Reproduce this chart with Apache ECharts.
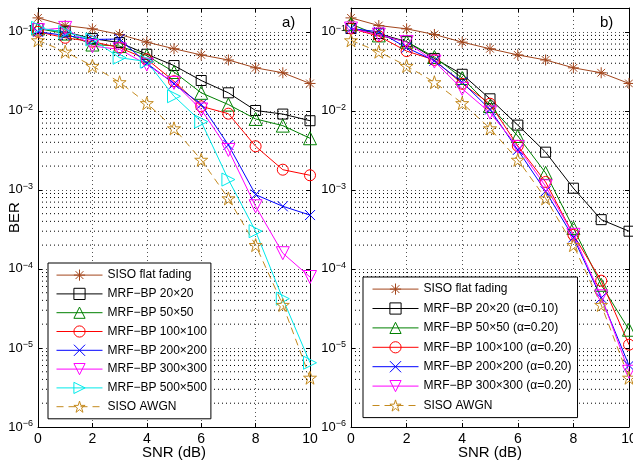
<!DOCTYPE html>
<html>
<head>
<meta charset="utf-8">
<script src="https://cdn.jsdelivr.net/npm/echarts@6/dist/echarts.min.js"></script>
<style>
  html, body { margin: 0; padding: 0; background: #fff; }
  #chart { width: 633px; height: 461px; }
</style>
</head>
<body>
<div id="chart"></div>
<script>
// SNR points (dB)
const snr = [0, 1, 2, 3, 4, 5, 6, 7, 8, 9, 10];

// reference curves, same in both panels
const berFlat = [0.15, 0.12, 0.109, 0.0925, 0.074, 0.061, 0.051, 0.044, 0.035, 0.0303, 0.0222];
const berAwgn = [0.078, 0.056, 0.037, 0.023, 0.0125, 0.006, 0.0024, 0.00078, 0.0002, 3.5e-5, 4.2e-6];

// panel a)
const berA20 = [0.11, 0.1, 0.082, 0.073, 0.052, 0.0374, 0.0242, 0.0169, 0.0101, 0.0091, 0.0075];
const berA50 = [0.11, 0.095, 0.069, 0.066, 0.05, 0.031, 0.0169, 0.012, 0.0079, 0.0065, 0.0045];
const berA100 = [0.1, 0.084, 0.075, 0.063, 0.045, 0.0237, 0.0114, 0.0092, 0.00356, 0.0018, 0.00153];
const berA200 = [0.1, 0.09, 0.08, 0.081, 0.04, 0.022, 0.012, 0.0037, 0.00087, 0.00062, 0.00048];
const berA300 = [0.105, 0.112, 0.066, 0.06, 0.0385, 0.0226, 0.0104, 0.0032, 0.00062, 0.000158, 7.9e-5];
const berA500 = [0.112, 0.099, 0.08, 0.047, 0.042, 0.0153, 0.0073, 0.00135, 0.0003, 4.2e-5, 6.5e-6];

// panel b)
const berB20 = [0.11, 0.095, 0.075, 0.046, 0.029, 0.0142, 0.0066, 0.003, 0.00105, 0.00042, 0.0003];
const berB50 = [0.125, 0.09, 0.075, 0.048, 0.026, 0.0115, 0.0048, 0.00164, 0.00033, 6.3e-5, 1.7e-5];
const berB100 = [0.11, 0.088, 0.057, 0.044, 0.022, 0.0123, 0.0036, 0.00126, 0.00027, 7.1e-5, 1.1e-5];
const berB200 = [0.11, 0.1, 0.063, 0.043, 0.023, 0.0104, 0.0032, 0.00096, 0.00025, 4.3e-5, 6e-6];
const berB300 = [0.11, 0.092, 0.074, 0.042, 0.019, 0.0095, 0.0035, 0.00111, 0.00027, 4.5e-5, 5e-6];

const namesA = ['SISO flat fading', 'MRF\u2212BP 20\u00d720', 'MRF\u2212BP 50\u00d750', 'MRF\u2212BP 100\u00d7100',
  'MRF\u2212BP 200\u00d7200', 'MRF\u2212BP 300\u00d7300', 'MRF\u2212BP 500\u00d7500', 'SISO AWGN'];
const namesB = ['SISO flat fading', 'MRF\u2212BP 20\u00d720 (\u03b1=0.10)', 'MRF\u2212BP 50\u00d750 (\u03b1=0.20)',
  'MRF\u2212BP 100\u00d7100 (\u03b1=0.20)', 'MRF\u2212BP 200\u00d7200 (\u03b1=0.20)', 'MRF\u2212BP 300\u00d7300 (\u03b1=0.20)', 'SISO AWGN'];

// minor grid lines of the log axis: 2..9 x each decade
const decades = [1e-6, 1e-5, 1e-4, 1e-3, 1e-2];
const minorSteps = [2, 3, 4, 5, 6, 7, 8, 9];

const FONT = '"Liberation Sans", Arial, sans-serif';
const GRID_LINE = { type: [1, 3], color: '#555', width: 1 };
// series lines are not pixel-snapped, so a darker dot keeps them readable
const MINOR_LINE = { type: [1, 3], color: '#000', width: 1 };

const SYM_ASTER = 'path://M0 5L10 5M5 0L5 10M1.5 1.5L8.5 8.5M1.5 8.5L8.5 1.5';
const SYM_CROSS = 'path://M0 0L10 10M0 10L10 0';
const SYM_STAR = 'path://M10 0L12.25 6.91L19.51 6.91L13.63 11.18L15.88 18.09L10 13.82L4.12 18.09L6.37 11.18L0.49 6.91L7.75 6.91Z';

const STY = {
  flat:  { color: '#a3461c', symbol: SYM_ASTER, size: 11 },
  s20:   { color: '#000000', symbol: 'rect', size: 10 },
  s50:   { color: '#008000', symbol: 'triangle', size: 13 },
  s100:  { color: '#ff0000', symbol: 'circle', size: 11 },
  s200:  { color: '#0000ff', symbol: SYM_CROSS, size: 10 },
  s300:  { color: '#ff00ff', symbol: 'triangle', size: 13, rotate: 180 },
  s500:  { color: '#00eaea', symbol: 'triangle', size: 13, rotate: -90 },
  awgn:  { color: '#c48a1e', symbol: SYM_STAR, size: 13, dashed: true }
};

function curve(name, values, sty, gi) {
  return {
    name: name, type: 'line', xAxisIndex: gi * 2, yAxisIndex: gi * 2,
    data: snr.map((x, i) => [x, values[i]]),
    symbol: sty.symbol, symbolSize: sty.size, symbolRotate: sty.rotate || 0,
    showAllSymbol: true, animation: false, z: 3,
    lineStyle: { color: sty.color, width: 1, type: sty.dashed ? [7, 5] : 'solid' },
    itemStyle: { color: 'transparent', borderColor: sty.color, borderWidth: 1 },
    emphasis: { disabled: true }
  };
}

// one flat dotted line per minor value, drawn on the panel's own log axis
function minorGrid(gi) {
  const out = [];
  decades.forEach(d => minorSteps.forEach(m => {
    out.push({
      type: 'line', xAxisIndex: gi * 2, yAxisIndex: gi * 2, silent: true, z: 1,
      data: [[0, d * m], [10, d * m]], symbol: 'none', animation: false,
      lineStyle: MINOR_LINE, emphasis: { disabled: true }
    });
  }));
  return out;
}

function powLabel(v) {
  const e = Math.log10(v);
  const k = Math.round(e);
  if (Math.abs(e - k) > 1e-6) return '';
  return '10{sup|' + (k < 0 ? '\u2212' + (-k) : k) + '}';
}

function xAxes(gi) {
  return [{
    type: 'value', gridIndex: gi, min: 0, max: 10, interval: 2,
    name: 'SNR (dB)', nameLocation: 'middle', nameGap: 18, nameMoveOverlap: false,
    nameTextStyle: { fontFamily: FONT, fontSize: 15, color: '#000' },
    axisLine: { show: true, onZero: false, lineStyle: { color: '#000', width: 1 } },
    axisTick: { show: true, inside: true, length: 4, lineStyle: { color: '#000' } },
    axisLabel: { fontFamily: FONT, fontSize: 14, color: '#000', margin: 5 },
    splitLine: { show: true, lineStyle: GRID_LINE }
  }, {
    type: 'value', gridIndex: gi, min: 0, max: 10, interval: 2, position: 'top',
    axisLine: { show: true, onZero: false, lineStyle: { color: '#000', width: 1 } },
    axisTick: { show: true, inside: true, length: 4, lineStyle: { color: '#000' } },
    axisLabel: { show: false }, splitLine: { show: false }
  }];
}

function yAxes(gi) {
  return [{
    type: 'log', logBase: 10, gridIndex: gi, min: 1e-6, max: 0.2,
    name: gi === 0 ? 'BER' : '', nameLocation: 'middle', nameGap: 16, nameRotate: 90,
    nameMoveOverlap: false,
    nameTextStyle: { fontFamily: FONT, fontSize: 15, color: '#000' },
    axisLine: { show: true, onZero: false, lineStyle: { color: '#000', width: 1 } },
    axisTick: { show: true, inside: true, length: 4, lineStyle: { color: '#000' } },
    axisLabel: {
      fontFamily: FONT, fontSize: 13, color: '#000', margin: 5,
      formatter: powLabel,
      rich: { sup: { fontFamily: FONT, fontSize: 9, color: '#000', padding: [0, 0, 7, 0] } }
    },
    splitLine: { show: true, lineStyle: GRID_LINE }
  }, {
    type: 'log', logBase: 10, gridIndex: gi, min: 1e-6, max: 0.2, position: 'right',
    axisLine: { show: true, onZero: false, lineStyle: { color: '#000', width: 1 } },
    axisTick: { show: true, inside: true, length: 4, lineStyle: { color: '#000' } },
    axisLabel: { show: false }, splitLine: { show: false }
  }];
}

function legendBox(names, left, top, gap, pad) {
  return {
    data: names, orient: 'vertical', left: left, top: top,
    itemWidth: 46, itemHeight: 14, itemGap: gap, padding: pad,
    backgroundColor: '#fff', borderColor: '#000', borderWidth: 1, borderRadius: 0,
    itemStyle: { borderWidth: 1 },
    lineStyle: { width: 1 },
    textStyle: { fontFamily: FONT, fontSize: 12, color: '#000' },
    selectedMode: false, z: 10
  };
}

const chart = echarts.init(document.getElementById('chart'), null, { renderer: 'canvas' });

chart.setOption({
  backgroundColor: '#fff',
  animation: false,
  title: [
    { text: 'a)', left: 277, top: 10, textStyle: { fontFamily: FONT, fontSize: 15, fontWeight: 'normal', color: '#000' } },
    { text: 'b)', left: 595, top: 10, textStyle: { fontFamily: FONT, fontSize: 15, fontWeight: 'normal', color: '#000' } }
  ],
  grid: [
    { left: 38, top: 8, width: 272, height: 419, containLabel: false, outerBoundsMode: 'none' },
    { left: 351, top: 8, width: 278, height: 419, containLabel: false, outerBoundsMode: 'none' }
  ],
  xAxis: [...xAxes(0), ...xAxes(1)],
  yAxis: [...yAxes(0), ...yAxes(1)],
  legend: [
    legendBox(namesA, 48, 263, 6.6, [6, 4, 6, 8]),
    legendBox(namesB, 363, 277, 7.2, [6, 6, 6, 9])
  ],
  series: [
    ...minorGrid(0),
    curve(namesA[0], berFlat, STY.flat, 0),
    curve(namesA[1], berA20, STY.s20, 0),
    curve(namesA[2], berA50, STY.s50, 0),
    curve(namesA[3], berA100, STY.s100, 0),
    curve(namesA[4], berA200, STY.s200, 0),
    curve(namesA[5], berA300, STY.s300, 0),
    curve(namesA[6], berA500, STY.s500, 0),
    curve(namesA[7], berAwgn, STY.awgn, 0),
    ...minorGrid(1),
    curve(namesB[0], berFlat, STY.flat, 1),
    curve(namesB[1], berB20, STY.s20, 1),
    curve(namesB[2], berB50, STY.s50, 1),
    curve(namesB[3], berB100, STY.s100, 1),
    curve(namesB[4], berB200, STY.s200, 1),
    curve(namesB[5], berB300, STY.s300, 1),
    curve(namesB[6], berAwgn, STY.awgn, 1)
  ]
});
</script>
</body>
</html>
